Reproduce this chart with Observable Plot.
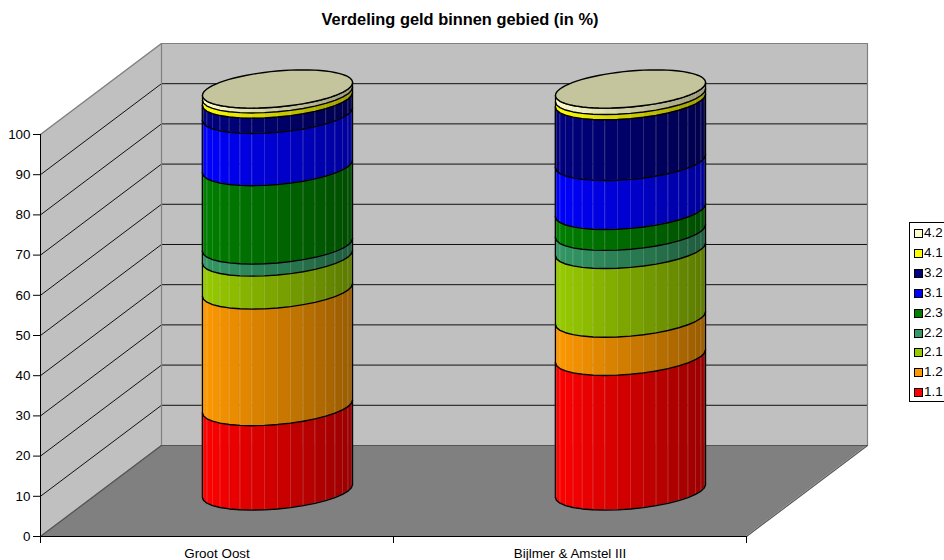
<!DOCTYPE html>
<html><head><meta charset="utf-8">
<script src="https://cdn.jsdelivr.net/npm/d3@7"></script>
<script src="https://cdn.jsdelivr.net/npm/@observablehq/plot@0.6"></script>
<style>
html,body{margin:0;padding:0;width:944px;height:560px;overflow:hidden;background:#fff;font-family:"Liberation Sans",Arial,sans-serif}
#title{height:33px;box-sizing:border-box;padding-top:11px;width:920px;text-align:center;font-weight:bold;font-size:16.4px;line-height:16px;color:#000}
#legend{position:absolute;left:909px;top:222px;width:44px;height:178px;border:1px solid #000;background:#fff;box-sizing:content-box}
#legend div{position:absolute;left:4px;height:20px;line-height:20px;font-size:13.4px;white-space:nowrap}
#legend i{position:absolute;left:0;top:6px;width:7px;height:7px;border:1px solid #000}
#legend span{position:absolute;left:10px;top:0}
svg{display:block}
</style></head><body>
<div id="title"></div>
<div id="chart"></div>
<div id="legend"></div>
<script>
const chartTitle = "Verdeling geld binnen gebied (in %)";
const categories = ["Groot Oost", "Bijlmer & Amstel III"];
const seriesNames = ["1.1","1.2","2.1","2.2","2.3","3.1","3.2","4.1","4.2"];
const seriesColors = ["#FF0000","#FF9900","#99CC00","#339966","#008000","#0000FF","#000080","#FFFF00","#FFFFCC"];
const grootOost = [21, 29, 8.2, 3, 19.5, 13, 3.8, 1.3, 1.2];
const bijlmerAmstel = [33.5, 9.5, 17.1, 4.5, 5.2, 12.2, 15.1, 1.3, 1.6];
const yTicks = [0,10,20,30,40,50,60,70,80,90,100];
const gridValues = [10,20,30,40,50,60,70,80,90];

// Oblique 3D projection, expressed in scale units (category widths, percent)
const depthX = 0.3428, depthY = 22.64;
const radiusX = 0.2, depthFrac = 0.21, facets = 18;
const topColor = "#C4C49D", wall = "#C0C0C0", floor = "#808080", edge = "#808080";

document.getElementById("title").textContent = chartTitle;
const lg = document.getElementById("legend");
[...seriesNames].reverse().forEach((n,i)=>{
  const c = seriesColors[seriesNames.length-1-i];
  const d = document.createElement("div");
  d.style.top = (i*19.9)+"px";
  d.innerHTML = `<i style="background:${c}"></i><span>${n}</span>`;
  lg.appendChild(d);
});

const tR = Math.atan2(depthFrac*depthX, radiusX);
function pt(cx, v, t){
  return {x: cx + 0.5*depthX + radiusX*Math.cos(t) + depthFrac*depthX*Math.sin(t),
          y: v + 0.5*depthY + depthFrac*depthY*Math.sin(t)};
}
const facetRows=[], seams=[], arcs=[], edges=[], tops=[];
[grootOost, bijlmerAmstel].forEach((vals,ci)=>{
  const cx = ci+0.5;
  const ts = d3.range(facets+1).map(i=> tR - Math.PI + Math.PI*i/facets);
  const left = pt(cx,0,ts[0]).x, right = pt(cx,0,ts[facets]).x;
  let v0 = 0;
  const stack = vals.map(v=>{const r=[v0,v0+v]; v0+=v; return r;});
  const total = v0;
  stack.forEach(([a,b],si)=>{
    for(let i=0;i<facets;i++){
      const p=pt(cx,a,ts[i]), q=pt(cx,a,ts[i+1]);
      const u=((p.x+q.x)/2-left)/(right-left);
      const f=1-0.4*u;
      const c=d3.rgb(seriesColors[si]);
      const col=d3.rgb(c.r*f,c.g*f,c.b*f).formatHex();
      const id=`${ci}-${si}-${i}`;
      facetRows.push({id,x:p.x,y1:p.y,y2:p.y+b-a,col});
      facetRows.push({id,x:q.x,y1:q.y,y2:q.y+b-a,col});
      if(i>0) seams.push({x1:p.x,y1:p.y,x2:p.x,y2:p.y+b-a});
    }
    ts.forEach(t=>{const p=pt(cx,a,t); arcs.push({id:`${ci}-${si}`,x:p.x,y:p.y});});
  });
  ts.forEach(t=>{const p=pt(cx,total,t); arcs.push({id:`${ci}-top`,x:p.x,y:p.y});});
  [ts[0],ts[facets]].forEach(t=>{
    const p=pt(cx,0,t); edges.push({x1:p.x,y1:p.y,x2:p.x,y2:p.y+total});
  });
  d3.range(73).forEach(i=>{const p=pt(cx,total,i/72*2*Math.PI); tops.push({id:ci,x:p.x,y:p.y});});
});

const leftWall=[{x:0,y1:0,y2:100},{x:depthX,y1:depthY,y2:100+depthY}];
const backWall=[{x:depthX,y1:depthY,y2:100+depthY},{x:2+depthX,y1:depthY,y2:100+depthY}];
const floorRows=[{y:0,x1:0,x2:2},{y:depthY,x1:depthX,x2:2+depthX}];
const gridLines=gridValues.flatMap(v=>[
  {id:v,x:0,y:v},{id:v,x:depthX,y:v+depthY},{id:v,x:2+depthX,y:v+depthY}]);
const wallOutline=[
  {id:"l",x:0,y:0},{id:"l",x:depthX,y:depthY},{id:"l",x:depthX,y:100+depthY},{id:"l",x:0,y:100},
  {id:"t",x:depthX,y:100+depthY},{id:"t",x:2+depthX,y:100+depthY},{id:"t",x:2+depthX,y:depthY}];
const floorOutline=[{id:"f",x:0,y:0},{id:"f",x:depthX,y:depthY},{id:"f",x:2+depthX,y:depthY},{id:"f",x:2,y:0}];

const plot = Plot.plot({
  width:944, height:527,
  marginLeft:40, marginRight:198, marginBottom:24, marginTop:10,
  x:{domain:[0,2], range:[40,746]},
  y:{domain:[0,100], range:[503,101]},
  color:{type:"identity"},
  style:{fontFamily:"Liberation Sans, Arial, sans-serif", fontSize:"13.4px", color:"#000", background:"transparent", overflow:"visible"},
  marks:[
    Plot.areaY(leftWall,{x:"x",y1:"y1",y2:"y2",fill:wall}),
    Plot.areaY(backWall,{x:"x",y1:"y1",y2:"y2",fill:wall}),
    Plot.areaX(floorRows,{y:"y",x1:"x1",x2:"x2",fill:floor}),
    Plot.line(gridLines,{x:"x",y:"y",z:"id",stroke:"#111",strokeWidth:1}),
    Plot.line(wallOutline,{x:"x",y:"y",z:"id",stroke:edge,strokeWidth:1.2}),
    Plot.line(floorOutline,{x:"x",y:"y",z:"id",stroke:"#555",strokeWidth:1.2}),
    Plot.areaY(facetRows,{x:"x",y1:"y1",y2:"y2",z:"id",fill:"col",stroke:"col",strokeWidth:0.4}),
    Plot.link(seams,{x1:"x1",y1:"y1",x2:"x2",y2:"y2",stroke:"#fff",strokeOpacity:0.16,strokeWidth:1}),
    Plot.line(arcs,{x:"x",y:"y",z:"id",stroke:"#000",strokeWidth:1.4}),
    Plot.link(edges,{x1:"x1",y1:"y1",x2:"x2",y2:"y2",stroke:"#000",strokeWidth:1.3}),
    Plot.line(tops,{x:"x",y:"y",z:"id",fill:topColor,stroke:"#000",strokeWidth:1.4}),
    Plot.ruleX([0],{y1:0,y2:100,stroke:"#000"}),
    Plot.ruleY([0],{x1:0,x2:2,stroke:"#000"}),
    Plot.axisY({anchor:"left",ticks:yTicks,tickSize:7,tickPadding:3,label:null,tickFormat:d=>String(d)}),
    Plot.axisX({anchor:"bottom",ticks:[0,1,2],tickSize:7,tickFormat:()=>"",label:null}),
    Plot.axisX({anchor:"bottom",ticks:[0.5,1.5],tickSize:0,tickPadding:12,label:null,tickFormat:d=>categories[Math.floor(d)]})
  ]
});
document.getElementById("chart").appendChild(plot);
</script>
</body></html>
